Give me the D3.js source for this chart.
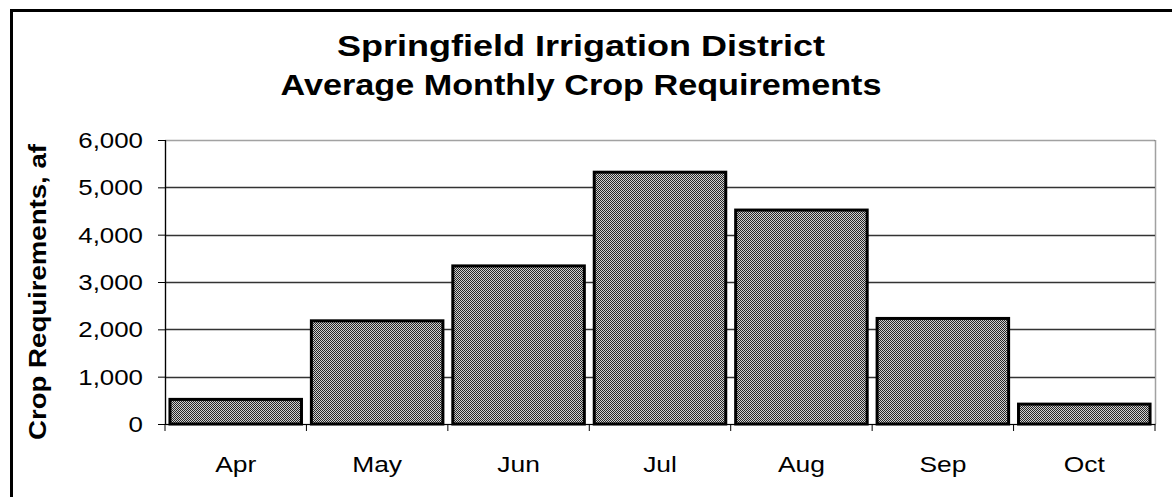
<!DOCTYPE html>
<html>
<head>
<meta charset="utf-8">
<script src="https://cdn.jsdelivr.net/npm/d3@7"></script>
<style>
  html, body { margin: 0; padding: 0; background: #fff; }
  svg { display: block; }
  text { font-family: "Liberation Sans", Arial, sans-serif; fill: #000; }
</style>
</head>
<body>
<svg id="chart" width="1172" height="497"></svg>
<script>
// データ
const months = ['Apr', 'May', 'Jun', 'Jul', 'Aug', 'Sep', 'Oct'];
const cropReq = [520, 2180, 3340, 5320, 4520, 2230, 420];
const yTicks = [0, 1000, 2000, 3000, 4000, 5000, 6000];
const titleLines = ['Springfield Irrigation District', 'Average Monthly Crop Requirements'];
const yLabel = 'Crop Requirements, af';

const svg = d3.select('#chart');
const W = 1172, H = 497;
const plot = { left: 165, top: 140, right: 1155, bottom: 424 };
const SX = 1.2; // 元の図のフォントは横に広い

// 値か関数かを解決
const val = (v, d, i) => typeof v === 'function' ? v(d, i) : v;

// テキストを横に伸ばして置く
function placeText(sel, x, y, sx, rot) {
    sel.attr('x', 0).attr('y', 0)
        .attr('transform', (d, i) =>
            `translate(${val(x, d, i)},${val(y, d, i)})` +
            (rot ? ` rotate(${rot})` : '') +
            ` scale(${val(sx, d, i)},1)`);
    return sel;
}

// 網掛けパターン
const defs = svg.append('defs');
const pat = defs.append('pattern')
    .attr('id', 'dots')
    .attr('width', 2).attr('height', 2)
    .attr('patternUnits', 'userSpaceOnUse');
pat.append('rect').attr('width', 2).attr('height', 2).attr('fill', '#d0d0d0');
pat.append('rect').attr('x', 0).attr('y', 0).attr('width', 1).attr('height', 1).attr('fill', '#262626');
pat.append('rect').attr('x', 1).attr('y', 1).attr('width', 1).attr('height', 1).attr('fill', '#262626');

// 外枠
svg.append('rect')
    .attr('x', 11.5).attr('y', 10.5)
    .attr('width', W + 20).attr('height', H + 20)
    .attr('fill', 'none').attr('stroke', '#000').attr('stroke-width', 3);

// タイトル
svg.append('g').selectAll('text')
    .data(titleLines)
    .enter().append('text')
    .attr('text-anchor', 'middle')
    .attr('font-size', 30)
    .attr('font-weight', 'bold')
    .text(d => d)
    .call(placeText, 581, (d, i) => 56 + i * 39, (d, i) => i ? 1.14 : SX);

const x = d3.scaleBand()
    .domain(months)
    .range([plot.left, plot.right])
    .paddingInner(0.07)
    .paddingOuter(0.035);

const xBounds = d3.scaleBand()
    .domain(months)
    .range([plot.left, plot.right]);

const y = d3.scaleLinear()
    .domain([0, 6000])
    .range([plot.bottom, plot.top]);

// グリッド線
svg.append('g').selectAll('line')
    .data(yTicks.filter(t => t > 0 && t < 6000))
    .enter().append('line')
    .attr('x1', plot.left).attr('x2', plot.right)
    .attr('y1', d => Math.round(y(d)) + 0.5).attr('y2', d => Math.round(y(d)) + 0.5)
    .attr('stroke', '#333').attr('stroke-width', 1.3);

// プロット枠（点線）
svg.append('rect')
    .attr('x', plot.left + 0.5).attr('y', plot.top + 0.5)
    .attr('width', plot.right - plot.left).attr('height', plot.bottom - plot.top)
    .attr('fill', 'none').attr('stroke', '#444')
    .attr('stroke-width', 1.5).attr('stroke-dasharray', '1,1');

// 棒
svg.append('g').selectAll('rect')
    .data(cropReq)
    .enter().append('rect')
    .attr('x', (d, i) => x(months[i]))
    .attr('y', d => y(d))
    .attr('width', x.bandwidth())
    .attr('height', d => plot.bottom - y(d))
    .attr('fill', 'url(#dots)')
    .attr('stroke', '#000').attr('stroke-width', 3);

// Y軸
const yAxis = svg.append('g')
    .attr('transform', `translate(${plot.left},0)`)
    .call(d3.axisLeft(y).tickValues(yTicks).tickSize(7).tickFormat(''));
yAxis.select('.domain').attr('stroke', '#000').attr('stroke-width', 1.2);
yAxis.selectAll('.tick line').attr('stroke', '#000');

svg.append('g').selectAll('text')
    .data(yTicks)
    .enter().append('text')
    .attr('text-anchor', 'end')
    .attr('font-size', 22.5)
    .attr('dy', '0.36em')
    .text(d3.format(','))
    .call(placeText, 143, d => y(d), 1.15);

// X軸
const xAxis = svg.append('g')
    .attr('transform', `translate(0,${plot.bottom})`);
xAxis.append('line')
    .attr('x1', plot.left).attr('x2', plot.right)
    .attr('y1', 0.5).attr('y2', 0.5)
    .attr('stroke', '#000').attr('stroke-width', 1.2);
xAxis.selectAll('line.tk')
    .data(months.map(m => xBounds(m)).concat([plot.right]))
    .enter().append('line')
    .attr('class', 'tk')
    .attr('x1', d => d).attr('x2', d => d)
    .attr('y1', 0).attr('y2', 7)
    .attr('stroke', '#000');

svg.append('g').selectAll('text')
    .data(months)
    .enter().append('text')
    .attr('text-anchor', 'middle')
    .attr('font-size', 22)
    .text(d => d)
    .call(placeText, d => xBounds(d) + xBounds.bandwidth() / 2, 472, SX);

// Y軸ラベル
svg.append('text')
    .attr('text-anchor', 'middle')
    .attr('font-size', 23)
    .attr('font-weight', 'bold')
    .text(yLabel)
    .call(placeText, 46, 292, SX, -90);
</script>
</body>
</html>
